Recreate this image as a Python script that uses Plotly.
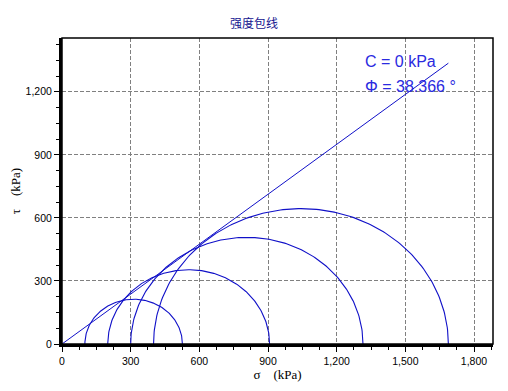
import numpy as np
import plotly.graph_objects as go

# Mohr circle data (kPa)
sigma3 = [100, 200, 300, 400]
sigma1 = [526, 907, 1315, 1688]
cohesion = 0.0          # kPa
phi_deg = 38.366        # degrees
x_ticks = [0, 300, 600, 900, 1200, 1500, 1800]
y_ticks = [0, 300, 600, 900, 1200]

BLUE = "#1010c8"
fig = go.Figure()

theta = np.linspace(0, np.pi, 181)
for s3, s1 in zip(sigma3, sigma1):
    c = (s1 + s3) / 2
    r = (s1 - s3) / 2
    fig.add_trace(go.Scatter(x=c + r * np.cos(theta), y=r * np.sin(theta),
                             mode="lines", line=dict(color=BLUE, width=1.1),
                             hoverinfo="skip", showlegend=False))

smax = max(sigma1)
tanphi = np.tan(np.radians(phi_deg))
fig.add_trace(go.Scatter(x=[0, smax], y=[cohesion, cohesion + smax * tanphi],
                         mode="lines", line=dict(color=BLUE, width=1),
                         hoverinfo="skip", showlegend=False))

axis_common = dict(
    showgrid=True, gridcolor="#808080", griddash="4px,2px", gridwidth=1,
    zeroline=False, showline=True, linecolor="black", linewidth=3,
    ticks="outside", ticklen=5, tickwidth=1, tickcolor="black", automargin=False,
    tickformat=",d", tickfont=dict(family="Liberation Sans", size=10.5, color="black"),
    minor=dict(dtick=75, ticks="outside", ticklen=3, tickcolor="black", showgrid=False),
)

# page body has an 8px margin; figure is sized/margined so the plot area lands
# at x 62..493, y 38..344 in the 508x391 window
W, H = 492, 375
fig.update_layout(
    width=W, height=H,
    margin=dict(l=54, r=7, t=30, b=39),
    paper_bgcolor="white", plot_bgcolor="white",
    title=dict(text="强度包线", x=(254 - 8) / W, xanchor="center", y=1 - 16 / H, yanchor="middle",
               font=dict(family="Noto Sans CJK SC", size=12, color="#14148f")),
    xaxis=dict(range=[0, 1883], tickvals=x_ticks,
               title=dict(text="σ\u2003(kPa)", standoff=1,
                          font=dict(family="Liberation Serif", size=13, color="black")),
               **axis_common),
    yaxis=dict(range=[0, 1456], tickvals=y_ticks,
               title=dict(text="τ\u2003(kPa)", standoff=6,
                          font=dict(family="Liberation Serif", size=13, color="black")),
               **axis_common),
    shapes=[dict(type="rect", xref="paper", yref="paper", x0=0, x1=1, y0=0, y1=1,
                 line=dict(color="black", width=1.5), fillcolor="rgba(0,0,0,0)", layer="above")],
    annotations=[
        dict(x=1315, y=1343, xref="x", yref="y", text="C = 0 kPa", showarrow=False,
             xanchor="left", yanchor="middle",
             font=dict(family="Liberation Sans", size=16, color="#2a2ae0")),
        dict(x=1315, y=1224, xref="x", yref="y", text=f"Φ = {phi_deg} °", showarrow=False,
             xanchor="left", yanchor="middle",
             font=dict(family="Liberation Sans", size=16, color="#2a2ae0")),
    ],
)

fig.write_html("out.html")
